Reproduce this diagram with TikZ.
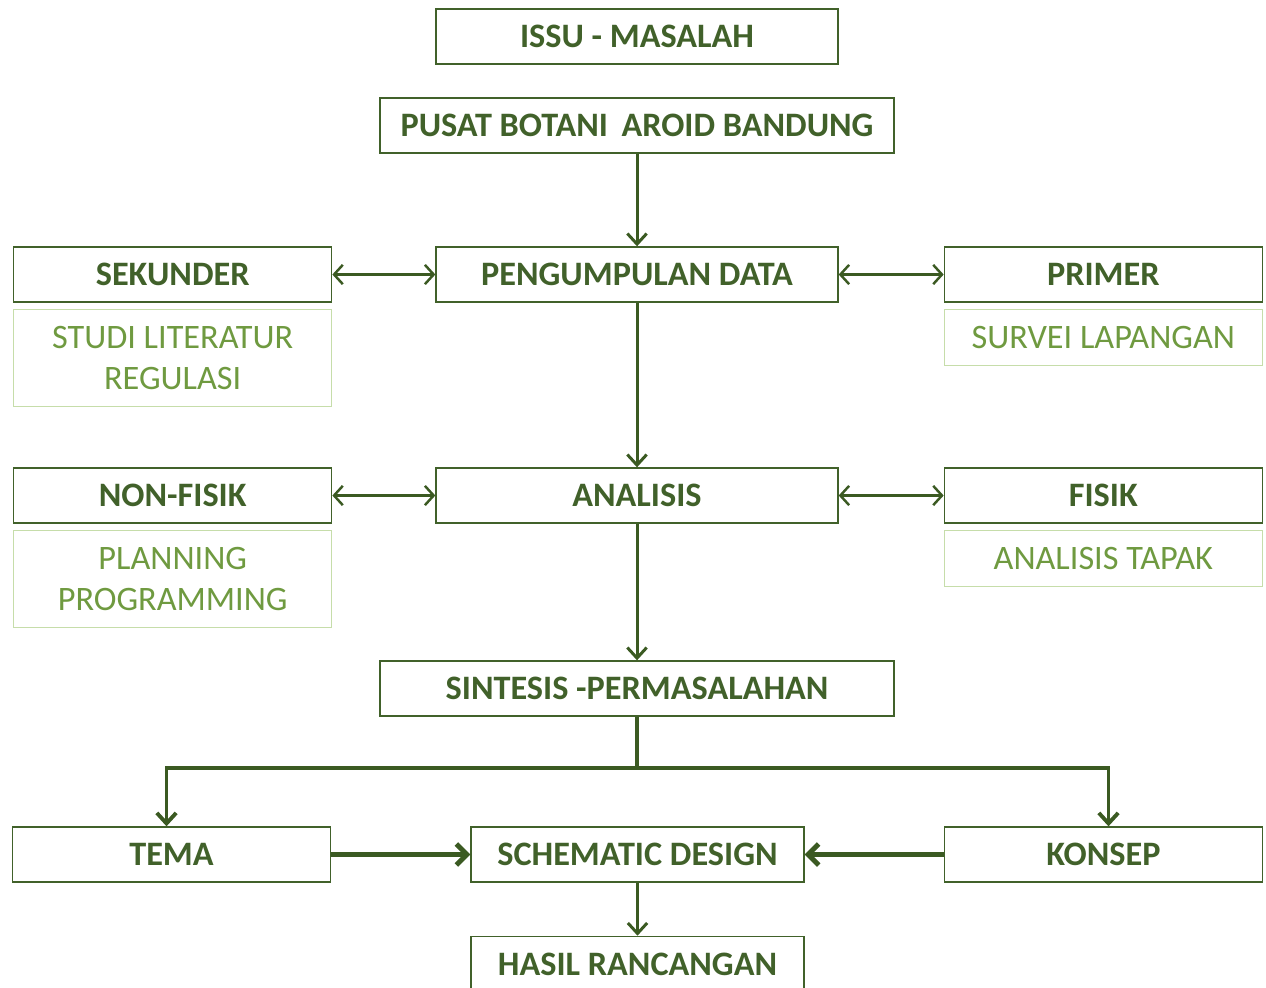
\documentclass[tikz,border=0pt]{standalone}
\usepackage{fontspec}
\setmainfont{Carlito}
\usepackage{xcolor}
\usetikzlibrary{positioning,arrows.meta,calc}
\definecolor{dkgreen}{HTML}{41612A}
\definecolor{lngreen}{HTML}{3B5A22}
\definecolor{ltborder}{HTML}{C6DDAA}
\definecolor{lttext}{HTML}{6F9A40}

\begin{document}
\begin{tikzpicture}[
  x=0.02cm, y=-0.02cm,
  font=\fontsize{19.5}{23.3}\selectfont,
  mainbox/.style={draw=dkgreen, line width=0.8pt, text=dkgreen, font=\fontsize{19.5}{23.3}\selectfont\bfseries,
                  align=center, inner sep=0pt, minimum height=1.1cm},
  subbox/.style={draw=ltborder, line width=0.8pt, text=lttext, align=center, inner sep=0pt,
                 minimum width=6.36cm},
  arr/.style={-{Straight Barb[length=6pt,width=11pt]}, line width=1.7pt, lngreen},
  biarr/.style={{Straight Barb[length=5pt,width=11pt]}-{Straight Barb[length=5pt,width=11pt]}, line width=1.4pt, lngreen},
  fatarr/.style={-{Straight Barb[length=6pt,width=12pt]}, line width=2.8pt, lngreen}
]
\useasboundingbox (0,0) rectangle (1266,987);

% central column
\node[mainbox, minimum width=8.04cm] (issu) at (637,36.5) {ISSU - MASALAH};
\node[mainbox, minimum width=10.28cm] (pusat) at (637,125.5) {PUSAT BOTANI \,AROID BANDUNG};
\node[mainbox, minimum width=8.04cm] (data) at (637,274.5) {PENGUMPULAN DATA};
\node[mainbox, minimum width=8.04cm] (anal) at (637,495.5) {ANALISIS};
\node[mainbox, minimum width=10.28cm] (sint) at (637,688.5) {SINTESIS -PERMASALAHAN};
\node[mainbox, minimum width=6.66cm] (sd) at (637.5,854.5) {SCHEMATIC DESIGN};
\node[mainbox, minimum width=6.66cm, below=1.06cm of sd] (hasil) {HASIL RANCANGAN};

% side boxes
\node[mainbox, minimum width=6.36cm, left=2.06cm of data] (sek) {SEKUNDER};
\node[mainbox, minimum width=6.36cm, right=2.1cm of data] (prim) {PRIMER};
\node[subbox, minimum height=1.94cm, below=0.12cm of sek] (studi) {STUDI LITERATUR\\REGULASI};
\node[subbox, minimum height=1.12cm, below=0.12cm of prim] (survei) {SURVEI LAPANGAN};

\node[mainbox, minimum width=6.36cm, left=2.06cm of anal] (nonf) {NON-FISIK};
\node[mainbox, minimum width=6.36cm, right=2.1cm of anal] (fisik) {FISIK};
\node[subbox, minimum height=1.94cm, below=0.12cm of nonf] (plan) {PLANNING\\PROGRAMMING};
\node[subbox, minimum height=1.12cm, below=0.12cm of fisik] (tapak) {ANALISIS TAPAK};

\node[mainbox, minimum width=6.36cm] (tema) at (171.5,854.5) {TEMA};
\node[mainbox, minimum width=6.36cm] (konsep) at (1103.5,854.5) {KONSEP};

\coordinate (fork) at (637,768);

% connectors
\draw[arr] (pusat) -- (data);
\draw[arr] (data) -- (anal);
\draw[arr] (anal) -- (sint);
\draw[biarr] (sek) -- (data);
\draw[biarr] (data) -- (prim);
\draw[biarr] (nonf) -- (anal);
\draw[biarr] (anal) -- (fisik);
\draw[line width=2.2pt, lngreen] (sint) -- (fork);
\draw[arr, line width=2.2pt] (fork) -| ([xshift=-0.1cm]tema.north);
\draw[arr, line width=2.2pt] (fork) -| ([xshift=0.1cm]konsep.north);
\draw[fatarr] (tema) -- (sd);
\draw[fatarr] (konsep) -- (sd);
\draw[arr] (sd) -- (hasil);
\end{tikzpicture}
\end{document}
